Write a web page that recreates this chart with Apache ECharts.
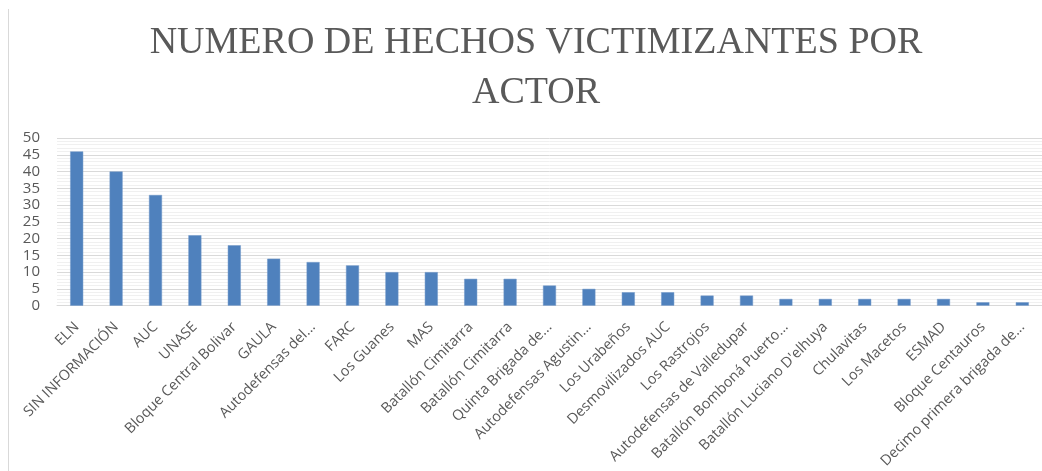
<!DOCTYPE html>
<html>
<head>
<meta charset="utf-8">
<script src="https://cdn.jsdelivr.net/npm/echarts@6/dist/echarts.min.js"></script>
<style>
html,body{margin:0;padding:0;background:#fff;}
#c{width:1042px;height:471px;}
</style>
</head>
<body>
<div id="c"></div>
<script>
const titleText = 'NUMERO DE HECHOS VICTIMIZANTES POR\nACTOR';
const categories = [
  'ELN', 'SIN INFORMACIÓN', 'AUC', 'UNASE', 'Bloque Central Bolivar', 'GAULA',
  'Autodefensas del...', 'FARC', 'Los Guanes', 'MAS', 'Batallón Cimitarra',
  'Batallón Cimitarra', 'Quinta Brigada de...', 'Autodefensas Agustin...',
  'Los Urabeños', 'Desmovilizados AUC', 'Los Rastrojos', 'Autodefensas de Valledupar',
  'Batallón Bomboná Puerto...', "Batallón Luciano D'elhuya", 'Chulavitas',
  'Los Macetos', 'ESMAD', 'Bloque Centauros', 'Decimo primera brigada de...'
];
const values = [46, 40, 33, 21, 18, 14, 13, 12, 10, 10, 8, 8, 6, 5, 4, 4, 3, 3, 2, 2, 2, 2, 2, 1, 1];
const yMin = 0, yMax = 50, yStep = 5;

const chart = echarts.init(document.getElementById('c'), null, {renderer: 'canvas'});
chart.setOption({
  animation: false,
  backgroundColor: '#ffffff',
  title: {
    text: titleText,
    left: 531,
    top: 13,
    textAlign: 'center',
    textStyle: {
      fontFamily: 'Liberation Serif',
      fontSize: 38,
      fontWeight: 'normal',
      color: '#595959',
      lineHeight: 50
    }
  },
  graphic: [{
    type: 'line',
    shape: {x1: 8.5, y1: 9, x2: 8.5, y2: 471},
    style: {stroke: '#d9d9d9', lineWidth: 1},
    silent: true
  }],
  grid: {left: 57, right: 0, top: 138, bottom: 165, containLabel: false},
  xAxis: {
    type: 'category',
    data: categories,
    axisLine: {show: true, lineStyle: {color: '#d9d9d9', width: 1}},
    axisTick: {show: false},
    axisLabel: {
      interval: 0,
      rotate: 45,
      margin: 19,
      fontFamily: 'Open Sans',
      fontSize: 14.5,
      color: '#595959'
    }
  },
  yAxis: {
    type: 'value',
    min: yMin,
    max: yMax,
    interval: yStep,
    axisLine: {show: false},
    axisTick: {show: false},
    axisLabel: {
      margin: 17,
      fontFamily: 'Open Sans',
      fontSize: 15,
      color: '#595959'
    },
    splitLine: {show: true, lineStyle: {color: '#d9d9d9', width: 1}},
    minorTick: {show: false, splitNumber: 5},
    minorSplitLine: {show: true, lineStyle: {color: '#f0f0f0', width: 1}}
  },
  series: [{
    type: 'bar',
    data: values,
    barWidth: 13,
    itemStyle: {color: '#4f81bd', borderColor: '#6f97c9', borderWidth: 0.5}
  }]
});
</script>
</body>
</html>
